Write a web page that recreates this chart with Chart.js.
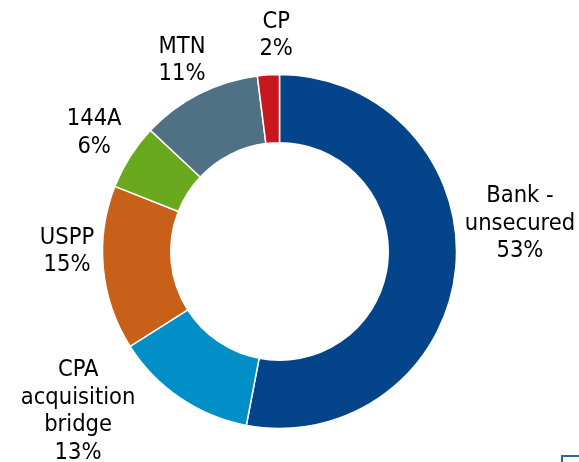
<!DOCTYPE html>
<html>
<head>
<meta charset="utf-8">
<script src="https://cdn.jsdelivr.net/npm/chart.js@4/dist/chart.umd.min.js"></script>
<style>
  html, body { margin: 0; padding: 0; background: #ffffff; }
  #wrap { position: relative; width: 579px; height: 462px; overflow: hidden; }
  #c { display: block; }
  #corner { position: absolute; left: 561px; top: 455px; width: 40px; height: 30px;
            border-left: 2px solid #2e66a2; border-top: 2px solid #2e66a2; box-sizing: border-box; }
</style>
</head>
<body>
<div id="wrap">
  <canvas id="c" width="579" height="462"></canvas>
  <div id="corner"></div>
</div>
<script>
// Data
const categories = ["Bank - unsecured", "CPA acquisition bridge", "USPP", "144A", "MTN", "CP"];
const labelLines = [["Bank -", "unsecured"], ["CPA", "acquisition", "bridge"], ["USPP"], ["144A"], ["MTN"], ["CP"]];
const shares = [53, 13, 15, 6, 11, 2];
const colors = ["#03448a", "#028ec6", "#c8601a", "#6aa81e", "#507084", "#c8181f"];

// label tweaks (pixels) relative to anchor at mid-angle
const labelTweaks = [[29, -48], [-82, -16], [-1, -20], [-6, -5], [-1, -2], [10, -4]];

const labelPlugin = {
  id: 'outerLabels',
  afterDatasetsDraw(chart) {
    const ctx = chart.ctx;
    const meta = chart.getDatasetMeta(0);
    const ds = chart.data.datasets[0];
    ctx.save();
    ctx.font = '23.5px "DejaVu Sans Condensed", "DejaVu Sans", sans-serif';
    try { ctx.fontStretch = 'condensed'; } catch (e) {}
    ctx.fillStyle = '#000000';
    ctx.textAlign = 'center';
    ctx.textBaseline = 'middle';
    const lh = 27.5;
    meta.data.forEach((arc, i) => {
      const p = arc.getProps(['x', 'y', 'startAngle', 'endAngle', 'outerRadius'], true);
      const mid = (p.startAngle + p.endAngle) / 2;
      const r = p.outerRadius * 1.2;
      const ax = p.x + Math.cos(mid) * r + labelTweaks[i][0];
      const ay = p.y + Math.sin(mid) * r + labelTweaks[i][1];
      const lines = labelLines[i].concat([ds.data[i] + '%']);
      const top = ay - (lines.length - 1) * lh / 2;
      lines.forEach((t, k) => ctx.fillText(t, ax, top + k * lh));
    });
    ctx.restore();
  }
};

new Chart(document.getElementById('c'), {
  type: 'doughnut',
  data: {
    labels: categories,
    datasets: [{
      data: shares,
      backgroundColor: colors,
      borderColor: '#ffffff',
      borderWidth: 1.5,
      hoverOffset: 0
    }]
  },
  options: {
    responsive: false,
    animation: false,
    radius: 177,
    cutout: 108,
    layout: { padding: { left: 103, right: 123, top: 74, bottom: 33 } },
    plugins: { legend: { display: false }, tooltip: { enabled: false } }
  },
  plugins: [labelPlugin]
});
</script>
</body>
</html>
